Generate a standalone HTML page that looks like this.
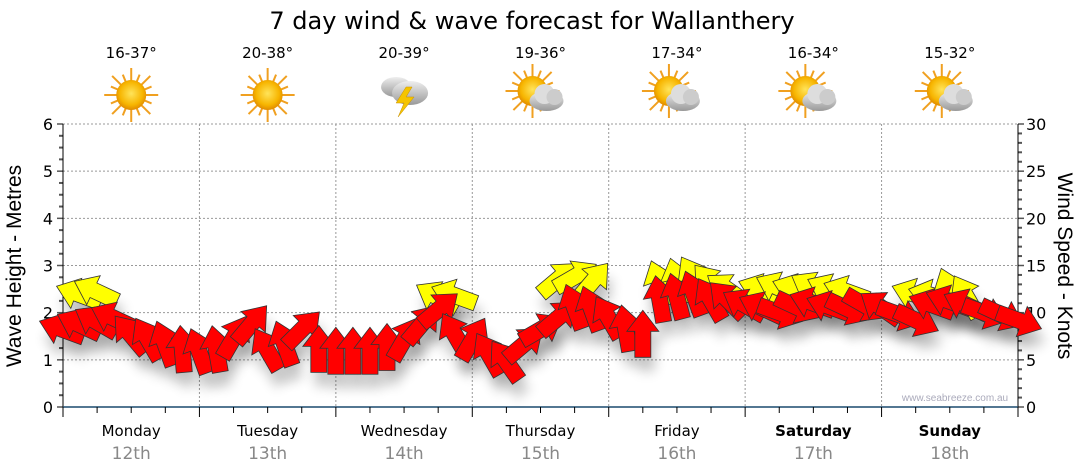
<!DOCTYPE html>
<html><head><meta charset="utf-8"><style>
body{margin:0;background:#fff;}
svg{display:block;font-family:"Liberation Sans",sans-serif;}
</style></head><body>
<svg id="c" width="1080" height="475" viewBox="0 0 1080 475">
<defs>
<filter id="sh" x="-50%" y="-50%" width="200%" height="200%"><feGaussianBlur stdDeviation="6"/></filter>
<radialGradient id="sun" cx="50%" cy="45%" r="55%"><stop offset="0" stop-color="#ffe45a"/><stop offset="0.7" stop-color="#f7b500"/><stop offset="1" stop-color="#e08a00"/></radialGradient>
<linearGradient id="cloud" x1="0" y1="0" x2="0" y2="1"><stop offset="0" stop-color="#eee"/><stop offset="1" stop-color="#999"/></linearGradient>
</defs>
<text x="532" y="29" font-size="24" font-family="DejaVu Sans, sans-serif" text-anchor="middle" fill="#000">7 day wind &amp; wave forecast for Wallanthery</text>
<g id="grid"></g><g id="axes"></g><g id="icons"></g><g id="shadows"></g><g id="marks"></g>
<text x="955" y="401" font-size="10" fill="#aab" text-anchor="middle">www.seabreeze.com.au</text>
<text transform="translate(21,266) rotate(-90)" font-size="21" text-anchor="middle">Wave Height - Metres</text>
<text transform="translate(1058,266) rotate(90)" font-size="21" text-anchor="middle">Wind Speed - Knots</text>
</svg>
<script>
const days=["Monday","Tuesday","Wednesday","Thursday","Friday","Saturday","Sunday"];
const dates=["12th","13th","14th","15th","16th","17th","18th"];
const temps=["16-37°","20-38°","20-39°","19-36°","17-34°","16-34°","15-32°"];
const weather=["sun","sun","storm","partly","partly","partly","partly"];
const leftTicks=[0,1,2,3,4,5,6];
const rightTicks=[0,5,10,15,20,25,30];
// wind speed (knots) every 3 hours, red series
const windKnots=[8.2,8.7,9,9.4,7.6,7.1,6.6,6,
5.8,6,7.3,8.7,6,6.6,8.2,6,
5.8,5.8,5.8,6.2,7.1,8.7,10.3,7.6,
7.1,5.5,4.8,6.6,8.2,9.4,10.5,10.3,
9.4,8.2,7.6,11.3,11.6,11.9,11.3,11.3,
10.8,10.5,10,10.6,11,10.6,10.4,10.8,
10.5,9.8,9.2,10.8,11.2,10.8,10,9.8,9.2];
const windDir=[200,205,210,205,230,240,250,265,
250,260,300,310,240,250,315,270,
270,270,270,270,300,310,320,240,
300,240,235,320,330,320,250,250,
240,260,270,260,255,250,240,225,
210,205,20,25,200,200,25,30,
215,20,25,200,200,205,20,25,20];
// yellow series (gusts) knots, null where absent
const gustKnots=[null,11.9,12.2,null,null,null,null,null,
null,null,null,null,null,null,null,null,
null,null,null,null,null,null,11.6,11.8,
null,null,null,null,null,13.5,13.8,13.2,
null,null,null,13,13.2,13.6,13,12.4,
null,12.4,12.6,12.4,12.6,12.4,12.2,null,
null,null,11.9,11.8,12.2,11.6,null,null,null];
const gustDir=[null,200,205,null,null,null,null,null,
null,null,null,null,null,null,null,null,
null,null,null,null,null,null,210,200,
null,null,null,null,null,320,330,310,
null,null,null,250,255,240,230,215,
null,200,205,200,210,205,200,null,
null,null,200,195,250,240,null,null,null];

const NS="http://www.w3.org/2000/svg";
const X0=63,X1=1018,Y0=407,Y1=124;
const dayW=(X1-X0)/7;
const xT=i=>X0+i*dayW/8;
const yM=v=>Y0-(v/6)*(Y0-Y1);
const yK=v=>Y0-(v/30)*(Y0-Y1);
function el(t,a,p){const e=document.createElementNS(NS,t);for(const k in a)e.setAttribute(k,a[k]);p.appendChild(e);return e;}
const grid=document.getElementById('grid'),axes=document.getElementById('axes'),icons=document.getElementById('icons'),marks=document.getElementById('marks'),shadows=document.getElementById('shadows');
const TF="DejaVu Sans, sans-serif";
leftTicks.forEach(v=>{
 if(v>0){const g=el('line',{x1:X0,x2:X1,y1:yM(v),y2:yM(v),stroke:'#999','stroke-dasharray':'2,2'},grid);
 
 }
 const t=el('text',{x:X0-10,y:yM(v)+6,'font-size':16,'font-family':TF,'text-anchor':'end'},axes);t.textContent=v;
 
 
});
for(let m=0;m<=24;m++){const y=yM(m/4);el('line',{x1:X0-(m%4?4:6),x2:X0,y1:y,y2:y,stroke:'#555','stroke-width':m%4?2:1.5},axes);}
for(let k=0;k<=30;k++){const y=yK(k);el('line',{x1:X1,x2:X1+(k%5?4:6),y1:y,y2:y,stroke:'#555','stroke-width':k%5?2:1.5},axes);}
rightTicks.forEach(v=>{const t=el('text',{x:X1+8,y:yK(v)+6,'font-size':16,'font-family':TF},axes);t.textContent=v;
 
 });
el('line',{x1:X0,x2:X0,y1:Y1,y2:Y0,stroke:'#000'},axes);
el('line',{x1:X1,x2:X1,y1:Y1,y2:Y0,stroke:'#000'},axes);
el('line',{x1:X0,x2:X1,y1:Y0,y2:Y0,stroke:'#1a4a6e','stroke-width':1.5},axes);
for(let i=0;i<=28;i++){const x=X0+i*dayW/4;el('line',{x1:x,x2:x,y1:Y0,y2:Y0+(i%4?6:10),stroke:'#000'},axes);}

days.forEach((d,i)=>{
 const cx=X0+dayW*(i+0.5);
 if(i>0){const g=el('line',{x1:X0+dayW*i,x2:X0+dayW*i,y1:Y1,y2:Y0,stroke:'#999','stroke-dasharray':'2,2'},grid);
 
 }
 const t=el('text',{x:cx,y:436,'font-size':15,'font-family':TF,'text-anchor':'middle','font-weight':i>=5?'bold':'normal'},axes);t.textContent=d;
 
 
 const t2=el('text',{x:cx,y:459,'font-size':17,'font-family':TF,'text-anchor':'middle',fill:'#888'},axes);t2.textContent=dates[i];
 
 
 const t3=el('text',{x:cx,y:58,'font-size':15,'font-family':TF,'text-anchor':'middle'},icons);t3.textContent=temps[i];
 
 
 const g=el('g',{transform:`translate(${cx},95)`},icons);
 
 
 const w=weather[i];
 if(w==='sun'||w==='partly'){
  const sx=w==='sun'?0:-8,sy=w==='sun'?0:-4;
  for(let r=0;r<16;r++){const a=r*Math.PI/8;el('line',{x1:sx+Math.cos(a)*14,y1:sy+Math.sin(a)*14,x2:sx+Math.cos(a)*(r%2?22:27),y2:sy+Math.sin(a)*(r%2?22:27),stroke:'#f0a020','stroke-width':2},g);}
  el('circle',{cx:sx,cy:sy,r:15,fill:'url(#sun)'},g);
  if(w==='partly'){el('ellipse',{cx:6,cy:6,rx:17,ry:10,fill:'url(#cloud)'},g);el('circle',{cx:4,cy:-1,r:10,fill:'#ddd'},g);el('circle',{cx:14,cy:2,r:8,fill:'#ccc'},g);}
 }else{
  el('ellipse',{cx:-8,cy:-8,rx:15,ry:10,fill:'url(#cloud)'},g);
  el('ellipse',{cx:6,cy:-2,rx:18,ry:12,fill:'url(#cloud)'},g);
  el('polygon',{points:'2,-8 -8,8 0,8 -6,22 10,2 2,2 8,-8',fill:'#f5c400',stroke:'#c89000','stroke-width':0.5},g);
 }
});

function arrow(x,y,ang,col,name){
 const p='-22,-8 4,-8 4,-16 25,0 4,16 4,8 -22,8';
 const s=el('polygon',{points:p,fill:'#000',opacity:0.22,filter:'url(#sh)',transform:`translate(${x+4},${y+14}) rotate(${ang})`},shadows);
 
 
 const a=el('polygon',{points:p,fill:col,stroke:'#333','stroke-width':0.8,transform:`translate(${x},${y}) rotate(${ang})`},marks);
 
 
}
gustKnots.forEach((v,i)=>{if(v!=null){arrow(xT(i),yK(v),gustDir[i],'#ffff00','gust-arrow');}});
windKnots.forEach((v,i)=>{arrow(xT(i),yK(v),windDir[i],'#ff0000','wind-arrow');});
</script>
</body></html>
